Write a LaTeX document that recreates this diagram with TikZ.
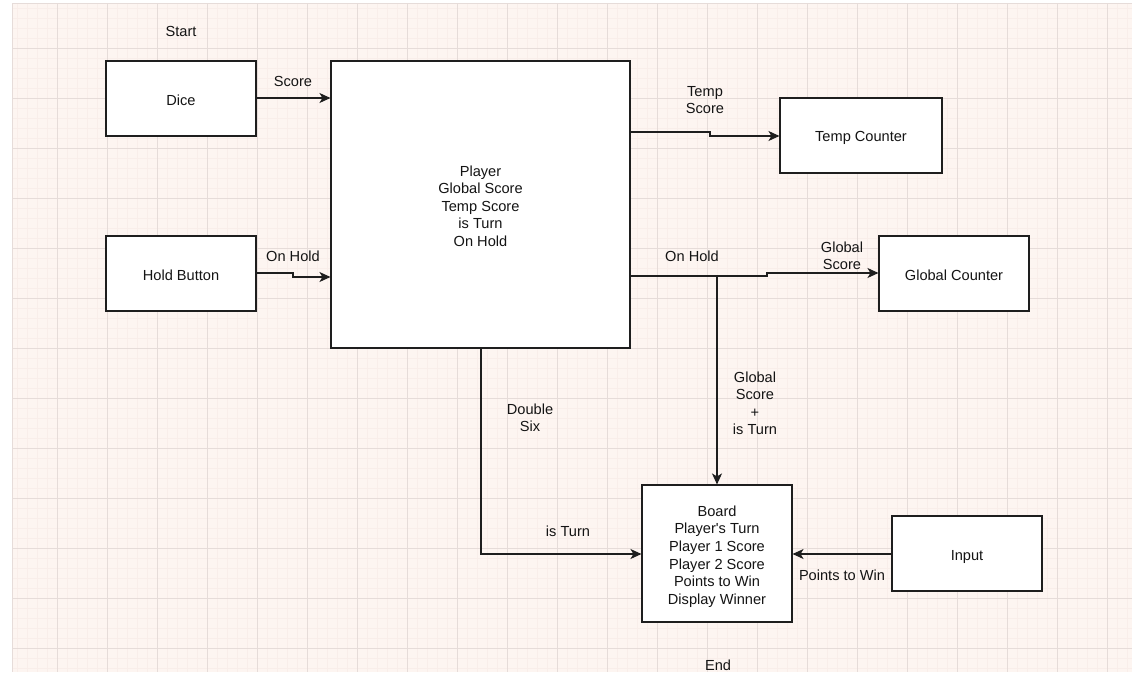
\documentclass[tikz,border=0pt]{standalone}
\usepackage{fontspec}
\setmainfont{Liberation Sans}
\usetikzlibrary{arrows.meta,calc}
\definecolor{bgc}{RGB}{253,245,241}
\definecolor{minorc}{RGB}{249,238,234}
\definecolor{majorc}{RGB}{230,220,217}
\definecolor{linec}{RGB}{30,30,30}
\tikzset{
  blk/.style={draw=linec, line width=1.1pt, fill=white, inner sep=0pt},
  lbl/.style={align=center, inner sep=0pt, font=\fontsize{14.6}{17.5}\selectfont, text=black!92},
  conn/.style={draw=linec, line width=1.1pt, -{Stealth[length=11pt,width=10pt,inset=3pt]}},
}
\begin{document}
\begin{tikzpicture}[x=1pt,y=-1pt, font=\fontsize{14.6}{17.5}\selectfont]
\useasboundingbox (0,0) rectangle (1132,672);
% background
\fill[white] (0,0) rectangle (1132,672);
\fill[bgc] (12,3) rectangle (1132,672);
\foreach \x in {17,27,...,1127} \draw[minorc, line width=0.5pt] (\x,3) -- (\x,672);
\foreach \y in {8,18,...,668} \draw[minorc, line width=0.5pt] (12,\y) -- (1132,\y);
\foreach \x in {57,107,...,1107} \draw[majorc, line width=0.7pt] (\x,3) -- (\x,672);
\foreach \y in {48,98,...,648} \draw[majorc, line width=0.7pt] (12,\y) -- (1132,\y);
\draw[majorc, line width=0.7pt] (12,3) -- (1132,3);
\draw[majorc, line width=0.7pt] (12,3) -- (12,672);
% boxes
\node[blk, minimum width=150pt, minimum height=75pt] (dice) at (181,98.5) {};
\node[blk, minimum width=299pt, minimum height=287pt] (player) at (480.5,204.5) {};
\node[blk, minimum width=162pt, minimum height=75pt] (temp) at (861,135.5) {};
\node[blk, minimum width=150pt, minimum height=75pt] (hold) at (181,273.5) {};
\node[blk, minimum width=150pt, minimum height=75pt] (global) at (954,273.5) {};
\node[blk, minimum width=150pt, minimum height=137pt] (board) at (717,553.5) {};
\node[blk, minimum width=150pt, minimum height=75pt] (input) at (967,553.5) {};
% box texts
\node[lbl] (diceT) at ($(dice.center)+(0,2)$) {Dice};
\node[lbl] (playerT) at ($(player.center)+(0,1.5)$) {Player\\Global Score\\Temp Score\\is Turn\\On Hold};
\node[lbl] (tempT) at ($(temp.center)+(0,2)$) {Temp Counter};
\node[lbl] (holdT) at ($(hold.center)+(0,1.5)$) {Hold Button};
\node[lbl] (globalT) at ($(global.center)+(0,1.5)$) {Global Counter};
\node[lbl, font=\fontsize{14.6}{17.7}\selectfont] (boardT) at ($(board.center)+(0,3)$) {Board\\Player\textquotesingle s Turn\\Player 1 Score\\Player 2 Score\\Points to Win\\Display Winner};
\node[lbl] (inputT) at ($(input.center)+(0,3)$) {Input};
% free texts
\node[lbl] (start) at (181,31.5) {Start};
\node[lbl] (end) at (718,665) {End};
% coordinates
\coordinate (hj1) at (293,273);
\coordinate (hj2) at (293,277);
\coordinate (tj1) at (710,132);
\coordinate (tj2) at (710,136);
\coordinate (gj0) at (717,276);
\coordinate (gj1) at (767,276);
\coordinate (gj2) at (767,273);
\coordinate (dcorner) at (481,554);
% connectors
\draw[conn] (dice.east |- 0,98) -- (player.west |- 0,98);
\draw[conn] (hold.east |- hj1) -- (hj1) -- (hj2) -- (player.west |- hj2);
\draw[conn] (player.east |- tj1) -- (tj1) -- (tj2) -- (temp.west |- tj2);
\draw[conn] (player.east |- gj0) -- (gj0) -- (gj1) -- (gj2) -- (global.west |- gj2);
\draw[conn] (gj0) -- (board.north -| gj0);
\draw[conn] (player.south -| dcorner) -- (dcorner) -- (board.west |- dcorner);
\draw[conn] (input.west |- 0,554) -- (board.east |- 0,554);
% labels
\node[lbl] at (293,81.5) {Score};
\node[lbl] at (293,256.5) {On Hold};
\node[lbl] at (705,100) {Temp\\Score};
\node[lbl] at (692,256.5) {On Hold};
\node[lbl] at (842,256) {Global\\Score};
\node[lbl] at (755,403.5) {Global\\Score\\+\\is Turn};
\node[lbl] at (530,418) {Double\\Six};
\node[lbl] at (568,531) {is Turn};
\node[lbl] at (842,575) {Points to Win};
\end{tikzpicture}
\end{document}
